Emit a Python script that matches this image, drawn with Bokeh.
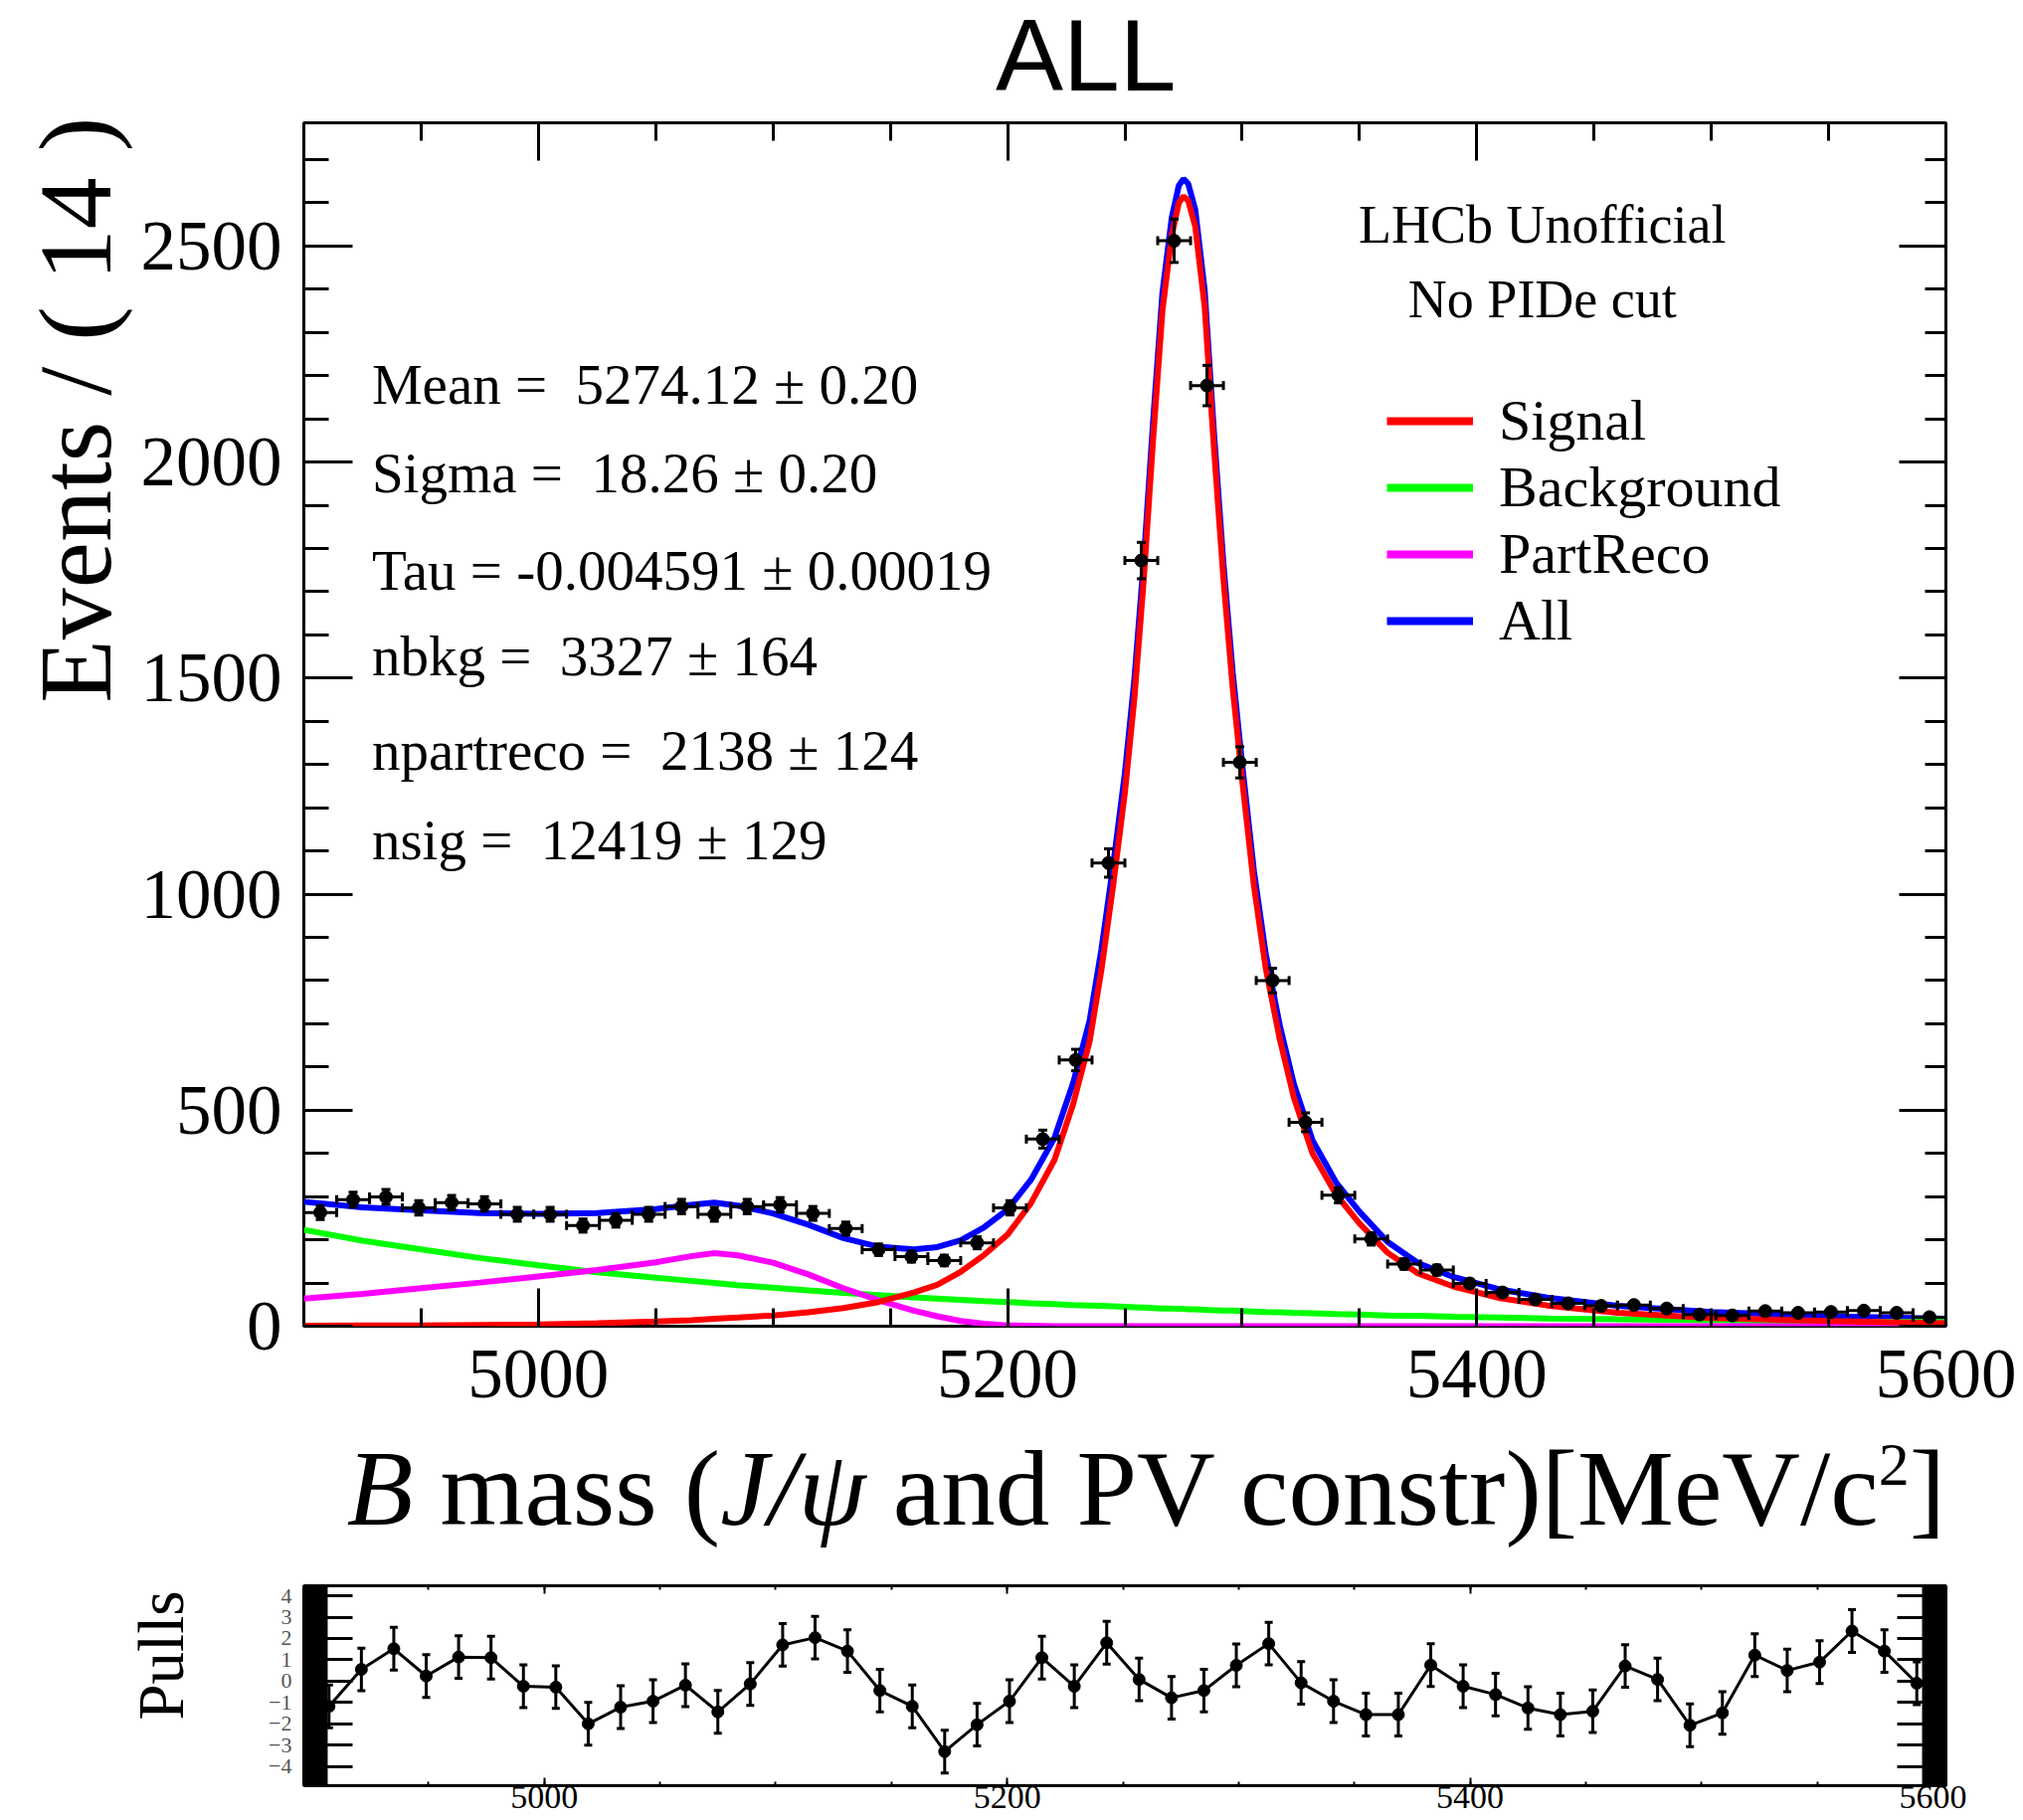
import math

from bokeh.embed import file_html
from bokeh.layouts import column
from bokeh.models import (BoxAnnotation, ColumnDataSource, Div, FixedTicker, Label,
                          Legend, LegendItem, LinearAxis, Range1d, SingleIntervalTicker,
                          TeeHead, Title, Whisker)
from bokeh.plotting import figure
from bokeh.resources import INLINE

# ---------------------------------------------------------------- data
bin_width = 14
bin_centers = [4907 + bin_width * i for i in range(50)]

events = [263, 293, 299, 274, 286, 283, 259, 259, 233, 245,
          259, 277, 259, 277, 281, 261, 226, 177, 161, 152,
          193, 274, 433, 616, 1072, 1772, 2512, 2177, 1305, 800,
          472, 303, 202, 144, 130, 99, 78, 62, 53, 47,
          49, 41, 27, 25, 35, 31, 33, 36, 31, 21]

pulls = [-1.18, 0.55, 1.52, 0.24, 1.13, 1.10, -0.24, -0.28, -2.00, -1.22,
         -0.94, -0.19, -1.44, -0.13, 1.70, 2.04, 1.41, -0.44, -1.18, -3.30,
         -2.04, -0.94, 1.10, -0.24, 1.80, 0.08, -0.78, -0.44, 0.74, 1.76,
         -0.08, -0.94, -1.57, -1.57, 0.75, -0.24, -0.63, -1.26, -1.57, -1.41,
         0.71, 0.08, -2.07, -1.49, 1.22, 0.50, 0.89, 2.35, 1.41, -0.10]

curve_mass = [4900, 4925, 4950, 4975, 5000, 5025, 5050, 5065, 5075, 5085,
              5100, 5115, 5130, 5145, 5160, 5170, 5180, 5190, 5200, 5210,
              5220, 5228, 5235, 5240, 5245, 5250, 5254, 5258, 5262, 5266,
              5270, 5273, 5275, 5277, 5280, 5284, 5288, 5292, 5296, 5300,
              5305, 5310, 5316, 5322, 5330, 5340, 5350, 5362, 5375, 5390,
              5410, 5430, 5460, 5500, 5550, 5600]

signal = [1, 2, 2, 3, 4, 7, 11, 14, 17, 20,
          25, 32, 42, 56, 78, 96, 126, 165, 212, 285,
          385, 515, 660, 825, 1020, 1235, 1450, 1725, 2050, 2350,
          2525, 2600, 2615, 2605, 2545, 2360, 2030, 1730, 1475, 1265,
          1020, 830, 665, 530, 400, 305, 238, 170, 122, 92,
          65, 48, 31, 19, 12, 7]

background = [223, 198, 178, 158, 141, 125, 112, 105, 100, 95,
              89, 83, 77, 72, 67, 64, 61, 58, 56, 53,
              51, 49, 48, 47, 46, 45, 44, 43, 42, 41,
              41, 40, 40, 39, 39, 38, 37, 36, 36, 35,
              34, 33, 32, 31, 30, 28, 27, 25, 24, 22,
              20, 18, 16, 14, 11, 10]

partreco = [64, 75, 88, 101, 115, 130, 148, 162, 169, 164,
            147, 120, 88, 60, 36, 23, 12, 6, 2, 1,
            0, 0, 0, 0, 0, 0, 0, 0, 0, 0,
            0, 0, 0, 0, 0, 0, 0, 0, 0, 0,
            0, 0, 0, 0, 0, 0, 0, 0, 0, 0,
            0, 0, 0, 0, 0, 0]

total = [288, 275, 268, 262, 260, 262, 271, 281, 286, 279,
         261, 235, 204, 184, 178, 183, 199, 229, 270, 339,
         436, 564, 708, 872, 1066, 1280, 1494, 1768, 2092, 2391,
         2566, 2640, 2655, 2644, 2584, 2398, 2067, 1766, 1511, 1300,
         1054, 863, 697, 561, 430, 333, 265, 195, 146, 114,
         85, 66, 47, 33, 23, 17]

legend_labels = ["Signal", "Background", "PartReco", "All"]
fit_results = ["Mean = \u00a05274.12 \u00b1 0.20",
               "Sigma = \u00a018.26 \u00b1 0.20",
               "Tau = -0.004591 \u00b1 0.00019",
               "nbkg = \u00a03327 \u00b1 164",
               "npartreco = \u00a02138 \u00b1 124",
               "nsig = \u00a012419 \u00b1 129"]
lhcb_texts = ["LHCb Unofficial", "No PIDe cut"]
pull_ticks = [-4, -3, -2, -1, 0, 1, 2, 3, 4]

# ---------------------------------------------------------------- style
SERIF = "Liberation Serif"
SANS = "Liberation Sans"
W = 2034
HEAD_H = 110          # page rows: heading | fit panel | x title | pulls
MAIN_H = 1330
PULL_TOP = 1580
PULL_H = 1830 - PULL_TOP
FRAME_TOP, FRAME_BOTTOM = 123, 1333
COLORS = {"sig": "#ff0000", "bkg": "#00ff00", "pr": "#ff00ff", "tot": "#0000ff"}


def add_axis(fig, side, ticker, tick_in, minor_in, label_px=0, standoff=0,
             tick_width=3, label_color="black"):
    ax = LinearAxis(ticker=ticker)
    ax.axis_line_color = None
    ax.major_tick_in = tick_in
    ax.major_tick_out = 0
    ax.minor_tick_in = minor_in
    ax.minor_tick_out = 0
    ax.major_tick_line_width = tick_width
    ax.minor_tick_line_width = tick_width
    ax.major_tick_line_color = "black"
    ax.minor_tick_line_color = "black"
    ax.major_label_text_font = SERIF
    ax.major_label_text_font_size = f"{label_px}px"
    ax.major_label_text_color = label_color if label_px else None
    ax.major_label_standoff = standoff
    fig.add_layout(ax, side)
    return ax


# ---------------------------------------------------------------- heading
heading = Div(text="ALL", width=W, height=HEAD_H, margin=(0, 0, 0, 0),
              styles={"font-family": SANS, "font-size": "102px", "line-height": "113px",
                      "text-indent": "1001px", "white-space": "nowrap", "color": "black"})

# ---------------------------------------------------------------- main fit panel
p = figure(width=W, height=MAIN_H, x_range=Range1d(4900, 5600), y_range=Range1d(0, 2785),
           x_axis_type=None, y_axis_type=None, output_backend="svg", toolbar_location=None,
           min_border_left=305, min_border_right=78, min_border_top=FRAME_TOP - HEAD_H,
           min_border_bottom=HEAD_H + MAIN_H - FRAME_BOTTOM)
p.outline_line_color = "black"
p.outline_line_width = 3
p.background_fill_color = "white"
p.border_fill_color = "white"

x_ticker = SingleIntervalTicker(interval=200, num_minor_ticks=4)
y_ticker = SingleIntervalTicker(interval=500, num_minor_ticks=5)
add_axis(p, "below", x_ticker, 38, 18, label_px=71, standoff=24)
add_axis(p, "left", y_ticker, 49, 25, label_px=71, standoff=22)
add_axis(p, "above", x_ticker, 38, 18)
add_axis(p, "right", y_ticker, 47, 21)

p.add_layout(Title(text="Events / ( 14 )", align="right", offset=-6, standoff=12, text_color="black",
                   text_font=SERIF, text_font_size="104px", text_font_style="normal"), "left")

curves = ColumnDataSource(dict(m=curve_mass, sig=signal, bkg=background, pr=partreco, tot=total))
r_tot = p.line("m", "tot", source=curves, line_color=COLORS["tot"], line_width=6)
r_bkg = p.line("m", "bkg", source=curves, line_color=COLORS["bkg"], line_width=6)
r_pr = p.line("m", "pr", source=curves, line_color=COLORS["pr"], line_width=6)
r_sig = p.line("m", "sig", source=curves, line_color=COLORS["sig"], line_width=6)

errs = [math.sqrt(n) for n in events]
data = ColumnDataSource(dict(
    x=bin_centers, y=events,
    xlo=[c - bin_width / 2 for c in bin_centers], xhi=[c + bin_width / 2 for c in bin_centers],
    ylo=[n - e for n, e in zip(events, errs)], yhi=[n + e for n, e in zip(events, errs)]))
p.add_layout(Whisker(source=data, base="y", lower="xlo", upper="xhi", dimension="width",
                     line_width=3, line_color="black", level="glyph",
                     lower_head=TeeHead(size=9, line_width=3), upper_head=TeeHead(size=9, line_width=3)))
p.add_layout(Whisker(source=data, base="x", lower="ylo", upper="yhi", dimension="height",
                     line_width=3, line_color="black", level="glyph",
                     lower_head=TeeHead(size=9, line_width=3), upper_head=TeeHead(size=9, line_width=3)))
p.scatter("x", "y", source=data, size=13, color="black")

# thicker line samples for the legend entries (a single undefined point draws nothing)
keys = ["sig", "bkg", "pr", "tot"]
samples = [p.line([float("nan")], [float("nan")], line_color=COLORS[k], line_width=8) for k in keys]
legend = Legend(items=[LegendItem(label=lab, renderers=[r], index=0)
                       for lab, r in zip(legend_labels, samples)],
                location=(1089, 676), orientation="vertical", glyph_width=87, glyph_height=30,
                label_standoff=26, label_text_font=SERIF, label_text_font_size="58px",
                label_text_color="black", label_height=64, spacing=-1, padding=0, margin=0,
                border_line_color=None, background_fill_alpha=0)
p.add_layout(legend)

stat_x = 4929
stat_y = [2180, 1975, 1749, 1552, 1333, 1126]
for txt, yy in zip(fit_results, stat_y):
    p.add_layout(Label(x=stat_x, y=yy, text=txt, text_font=SERIF, text_font_size="57px",
                       text_baseline="middle", text_color="black"))

for txt, yy in zip(lhcb_texts, [2548, 2376]):
    p.add_layout(Label(x=5428, y=yy, text=txt, text_font=SERIF, text_font_size="54px",
                       text_align="center", text_baseline="middle", text_color="black"))

# ---------------------------------------------------------------- x-axis title
xtitle = Div(text='<i>B</i> mass (<i>J/\u03c8</i> and PV constr)[MeV/c'
                  '<span style="font-size:62px;vertical-align:40px;line-height:0">2</span>]',
             width=1956, height=PULL_TOP - HEAD_H - MAIN_H, margin=(0, 0, 0, 0),
             styles={"font-family": SERIF, "font-size": "109px", "line-height": "114px",
                     "text-align": "right", "white-space": "nowrap", "color": "black"})

# ---------------------------------------------------------------- pull panel
px_per_mev = 2.33
pull_x0 = 4900 - 9 / px_per_mev
pull_x1 = pull_x0 + (W - 305 - 76) / px_per_mev
pp = figure(width=W, height=PULL_H, x_range=Range1d(pull_x0, pull_x1), y_range=Range1d(-4.9, 4.47),
            x_axis_type=None, y_axis_type=None, output_backend="svg", toolbar_location=None,
            min_border_left=305, min_border_right=76, min_border_top=1594 - PULL_TOP,
            min_border_bottom=35)
pp.outline_line_color = "black"
pp.outline_line_width = 3
pp.background_fill_color = "white"
pp.border_fill_color = "white"

px_ticker = SingleIntervalTicker(interval=200, num_minor_ticks=4)
py_ticker = FixedTicker(ticks=pull_ticks, minor_ticks=[])
add_axis(pp, "below", px_ticker, 8, 4, label_px=34, standoff=0, tick_width=2)
add_axis(pp, "left", py_ticker, 49, 0, label_px=22, standoff=12, tick_width=3, label_color="#555555")
add_axis(pp, "above", px_ticker, 8, 4, tick_width=2)
add_axis(pp, "right", py_ticker, 49, 0, tick_width=3)
pp.add_layout(Title(text="Pulls", align="right", offset=5, standoff=140, text_color="black",
                    text_font=SERIF, text_font_size="65px", text_font_style="normal"), "left")

bar_w = 24 / px_per_mev
pp.add_layout(BoxAnnotation(left=pull_x0, right=pull_x0 + bar_w, fill_color="black",
                            fill_alpha=1, line_alpha=0))
pp.add_layout(BoxAnnotation(left=pull_x1 - bar_w, right=pull_x1, fill_color="black",
                            fill_alpha=1, line_alpha=0))

pull_src = ColumnDataSource(dict(x=bin_centers, y=pulls,
                                 lo=[v - 1 for v in pulls], hi=[v + 1 for v in pulls]))
pp.line("x", "y", source=pull_src, line_width=3, line_color="black")
pp.add_layout(Whisker(source=pull_src, base="x", lower="lo", upper="hi", dimension="height",
                      line_width=3, line_color="black", level="glyph",
                      lower_head=TeeHead(size=8, line_width=3), upper_head=TeeHead(size=8, line_width=3)))
pp.scatter("x", "y", source=pull_src, size=12, color="black")

layout = column(heading, p, xtitle, pp, spacing=0)
open("out.html", "w").write(file_html(layout, INLINE, title="B mass fit"))
